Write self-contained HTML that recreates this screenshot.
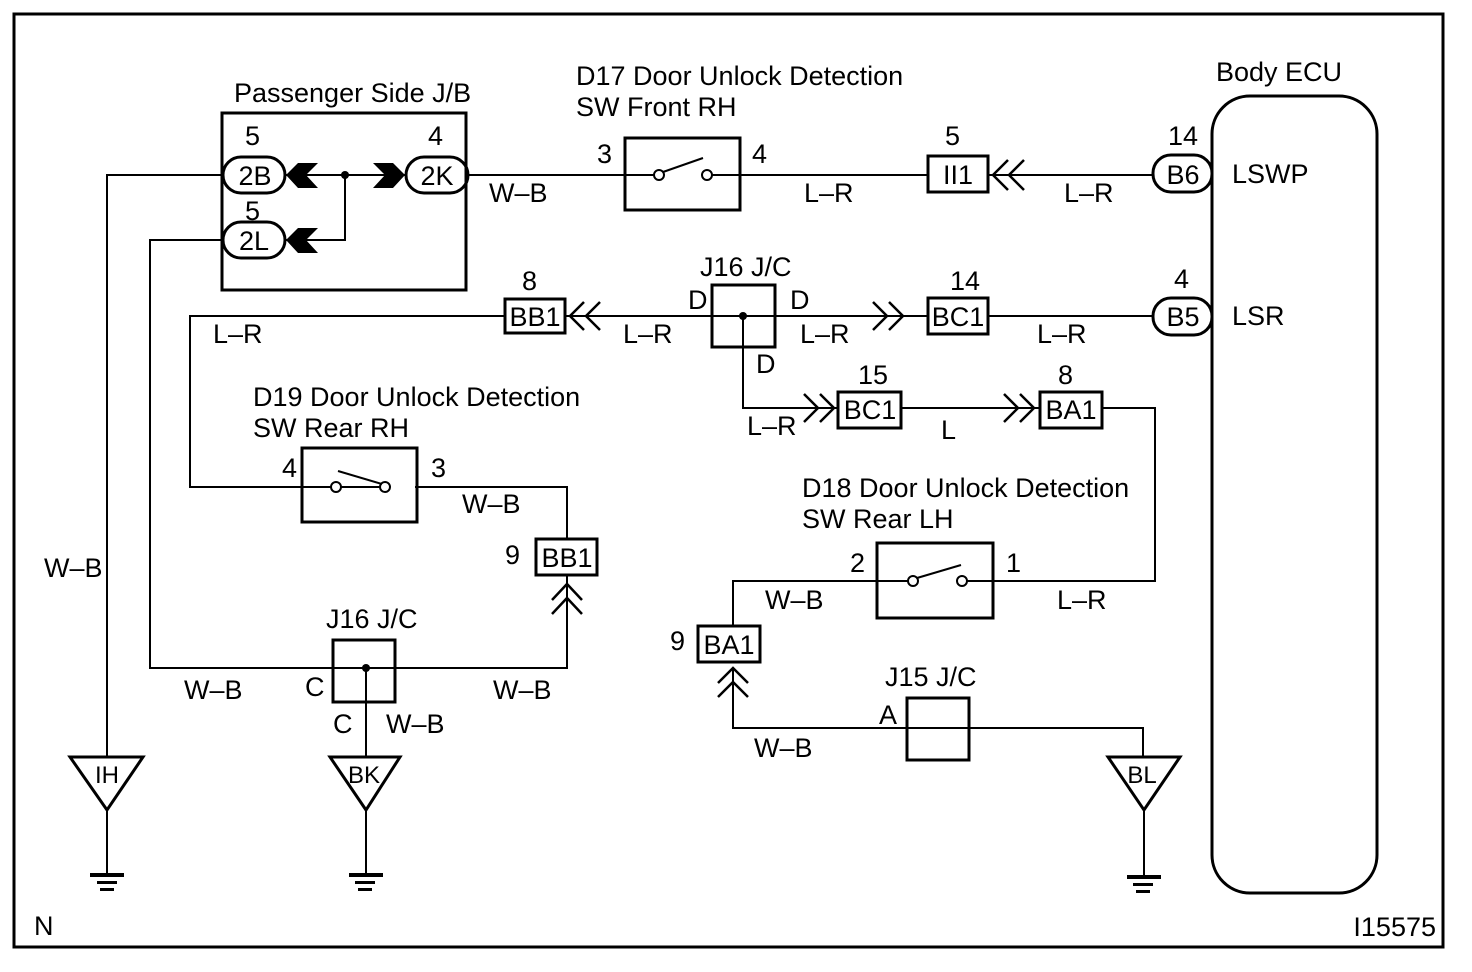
<!DOCTYPE html>
<html><head><meta charset="utf-8"><style>
html,body{margin:0;padding:0;background:#fff;}
svg{display:block;}
text{font-family:"Liberation Sans",Arial,sans-serif;font-size:27px;fill:#000;}
text.b{font-size:27px;text-anchor:middle;}
text.g{font-size:24px;text-anchor:middle;}
</style></head><body>
<svg width="1472" height="972" viewBox="0 0 1472 972" xmlns="http://www.w3.org/2000/svg">
<g fill="none" stroke="#000" stroke-width="2">
<rect x="14" y="14" width="1429" height="933" stroke-width="3"/>
<rect x="222" y="113" width="244" height="177" stroke-width="3"/>
<rect x="223" y="157" width="62" height="36" rx="18" stroke-width="3"/>
<rect x="223" y="222" width="62" height="36" rx="18" stroke-width="3"/>
<rect x="406" y="157" width="62" height="36" rx="18" stroke-width="3"/>
<line x1="285" y1="175" x2="406" y2="175"/>
<polyline points="345,175 345,240 285,240"/>
<polyline points="223,175 107,175 107,757"/>
<polyline points="223,240 150,240 150,668 333,668"/>
<polygon points="70,757 143,757 107,810" stroke-width="3"/>
<line x1="107" y1="810" x2="107" y2="875"/>
<rect x="333" y="640" width="62" height="62" stroke-width="3"/>
<polyline points="333,668 567,668 567,576"/>
<line x1="366" y1="668" x2="366" y2="757"/>
<polygon points="330,757 400,757 366,810" stroke-width="3"/>
<line x1="366" y1="810" x2="366" y2="875"/>
<rect x="536" y="539" width="61" height="36" stroke-width="3"/>
<polyline points="567,539 567,487 415,487"/>
<polyline points="552,600 567,584 582,600" stroke-width="2.5"/>
<polyline points="552,614 567,598 582,614" stroke-width="2.5"/>
<rect x="302" y="448" width="115" height="74" stroke-width="3"/>
<polyline points="302,487 190,487 190,316 505,316"/>
<line x1="302" y1="487" x2="332" y2="487"/><line x1="341" y1="487" x2="380" y2="487"/>
<circle cx="336" cy="487" r="5"/><circle cx="385" cy="487" r="5"/>
<line x1="338" y1="471" x2="382" y2="484"/>
<line x1="468" y1="175" x2="625" y2="175"/>
<rect x="625" y="138" width="115" height="72" stroke-width="3"/>
<line x1="625" y1="175" x2="654" y2="175"/><line x1="712" y1="175" x2="928" y2="175"/>
<circle cx="659" cy="175" r="5"/><circle cx="707" cy="175" r="5"/>
<line x1="663" y1="172" x2="703" y2="158"/>
<rect x="928" y="156" width="60" height="36" stroke-width="3"/>
<line x1="988" y1="175" x2="1153" y2="175"/>
<polyline points="1008,160 993,175 1008,190" stroke-width="2.5"/>
<polyline points="1024,160 1009,175 1024,190" stroke-width="2.5"/>
<rect x="1212" y="96" width="165" height="797" rx="38" stroke-width="3"/>
<rect x="1153" y="155" width="59" height="37" rx="18" stroke-width="3"/>
<rect x="1153" y="298" width="59" height="37" rx="18" stroke-width="3"/>
<rect x="505" y="299" width="60" height="34" stroke-width="3"/>
<line x1="565" y1="316" x2="928" y2="316"/>
<polyline points="584,302 570,316 584,330" stroke-width="2.5"/>
<polyline points="600,302 586,316 600,330" stroke-width="2.5"/>
<rect x="712" y="285" width="63" height="62" stroke-width="3"/>
<polyline points="873,302 887,316 873,330" stroke-width="2.5"/>
<polyline points="889,302 903,316 889,330" stroke-width="2.5"/>
<rect x="928" y="298" width="60" height="36" stroke-width="3"/>
<line x1="988" y1="316" x2="1153" y2="316"/>
<polyline points="743,316 743,408 838,408"/>
<polyline points="804,394 818,408 804,422" stroke-width="2.5"/>
<polyline points="820,394 834,408 820,422" stroke-width="2.5"/>
<rect x="838" y="392" width="63" height="36" stroke-width="3"/>
<line x1="901" y1="408" x2="1040" y2="408"/>
<polyline points="1004,394 1018,408 1004,422" stroke-width="2.5"/>
<polyline points="1020,394 1034,408 1020,422" stroke-width="2.5"/>
<rect x="1040" y="392" width="62" height="36" stroke-width="3"/>
<polyline points="1102,408 1155,408 1155,581 993,581"/>
<rect x="877" y="543" width="116" height="75" stroke-width="3"/>
<line x1="877" y1="581" x2="909" y2="581"/><line x1="967" y1="581" x2="993" y2="581"/>
<circle cx="913" cy="581" r="5"/><circle cx="962" cy="581" r="5"/>
<line x1="917" y1="578" x2="961" y2="565"/>
<polyline points="877,581 733,581 733,626"/>
<rect x="698" y="626" width="62" height="36" stroke-width="3"/>
<polyline points="718,683 733,668 748,683" stroke-width="2.5"/>
<polyline points="718,697 733,682 748,697" stroke-width="2.5"/>
<polyline points="733,668 733,728 1143,728 1143,757"/>
<rect x="907" y="698" width="62" height="62" stroke-width="3"/>
<polygon points="1108,757 1180,757 1144,810" stroke-width="3"/>
<line x1="1144" y1="810" x2="1144" y2="877"/>
</g>
<g fill="#000" stroke="none">
<polygon points="286,175 298,163 318,163 306,175 318,188 298,188"/>
<polygon points="286,240 298,228 318,228 306,240 318,253 298,253"/>
<polygon points="405,175 393,163 373,163 385,175 373,188 393,188"/>
<circle cx="345" cy="175" r="4"/>
<circle cx="743" cy="316" r="4"/>
<circle cx="366" cy="668" r="4"/>
<rect x="90" y="873" width="34" height="4"/><rect x="97" y="881" width="20" height="3"/><rect x="100" y="888" width="14" height="3"/>
<rect x="349" y="873" width="34" height="4"/><rect x="355" y="881" width="20" height="3"/><rect x="358" y="888" width="14" height="3"/>
<rect x="1127" y="875" width="34" height="4"/><rect x="1133" y="883" width="20" height="3"/><rect x="1136" y="890" width="14" height="3"/>
</g>
<text x="234" y="102">Passenger Side J/B</text>
<text x="245" y="145">5</text><text x="428" y="145">4</text><text x="245" y="220">5</text>
<text class="b" x="255" y="185">2B</text><text class="b" x="254" y="250">2L</text><text class="b" x="437" y="185">2K</text>
<text x="576" y="85">D17 Door Unlock Detection</text>
<text x="576" y="116">SW Front RH</text>
<text x="597" y="163">3</text><text x="752" y="163">4</text>
<text x="489" y="202">W–B</text><text x="804" y="202">L–R</text><text x="1064" y="202">L–R</text>
<text x="945" y="145">5</text><text class="b" x="958" y="184">II1</text>
<text x="1216" y="81">Body ECU</text>
<text x="1168" y="145">14</text><text class="b" x="1183" y="184">B6</text><text x="1232" y="183">LSWP</text>
<text x="1174" y="288">4</text><text class="b" x="1183" y="326">B5</text><text x="1232" y="325">LSR</text>
<text x="522" y="290">8</text><text class="b" x="535" y="326">BB1</text>
<text x="700" y="276">J16 J/C</text>
<text x="688" y="309">D</text><text x="790" y="309">D</text><text x="756" y="373">D</text>
<text x="213" y="343">L–R</text><text x="623" y="343">L–R</text><text x="800" y="343">L–R</text><text x="1037" y="343">L–R</text>
<text x="950" y="290">14</text><text class="b" x="958" y="326">BC1</text>
<text x="858" y="384">15</text><text class="b" x="870" y="419">BC1</text>
<text x="1058" y="384">8</text><text class="b" x="1071" y="419">BA1</text>
<text x="747" y="435">L–R</text><text x="941" y="439">L</text>
<text x="253" y="406">D19 Door Unlock Detection</text>
<text x="253" y="437">SW Rear RH</text>
<text x="282" y="477">4</text><text x="431" y="477">3</text>
<text x="462" y="513">W–B</text>
<text x="505" y="564">9</text><text class="b" x="567" y="567">BB1</text>
<text x="44" y="577">W–B</text>
<text x="326" y="628">J16 J/C</text>
<text x="305" y="696">C</text><text x="333" y="733">C</text>
<text x="184" y="699">W–B</text><text x="493" y="699">W–B</text><text x="386" y="733">W–B</text>
<text x="802" y="497">D18 Door Unlock Detection</text>
<text x="802" y="528">SW Rear LH</text>
<text x="850" y="572">2</text><text x="1006" y="572">1</text>
<text x="765" y="609">W–B</text><text x="1057" y="609">L–R</text>
<text x="670" y="650">9</text><text class="b" x="729" y="654">BA1</text>
<text x="885" y="686">J15 J/C</text>
<text x="879" y="724">A</text>
<text x="754" y="757">W–B</text>
<text class="g" x="107" y="783">IH</text>
<text class="g" x="364" y="783">BK</text>
<text class="g" x="1142" y="783">BL</text>
<text x="34" y="935" font-size="16">N</text>
<text x="1436" y="936" font-size="14" text-anchor="end">I15575</text>
</svg>
</body></html>
